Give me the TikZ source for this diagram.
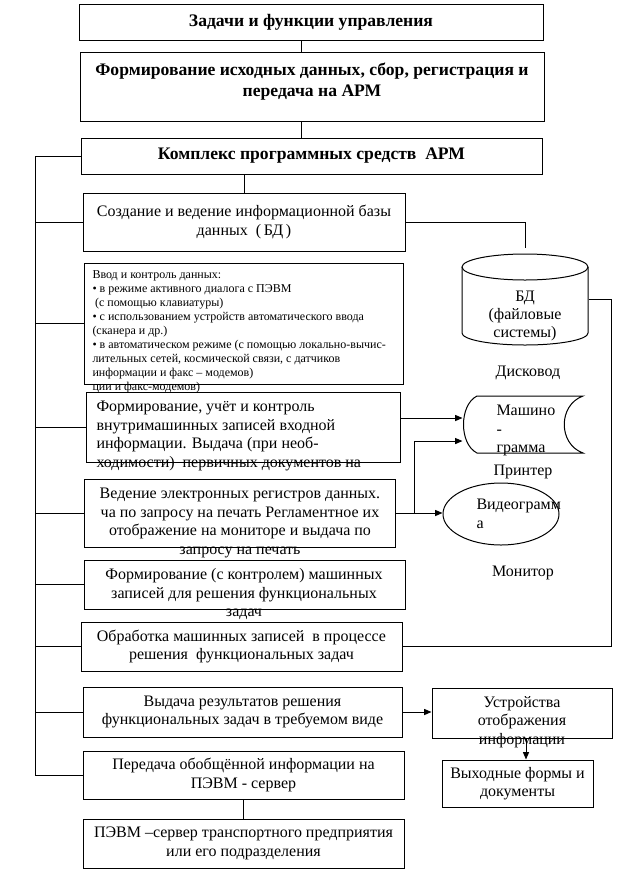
\documentclass[tikz,border=0pt]{standalone}
\usepackage{fontspec}
\setmainfont{Liberation Serif}
\usetikzlibrary{arrows.meta, shapes.geometric}
\tikzset{
  blok/.style = {draw, inner sep=0pt, align=center},
  tekst/.style = {inner sep=0pt, align=center},
  bolshoj/.style = {font=\fontsize{13.2}{16}\selectfont\bfseries},
  srednij/.style = {font=\fontsize{12}{13.8}\selectfont},
  melkij/.style = {font=\fontsize{9}{10.5}\selectfont},
  strelka/.style = {-{Triangle[length=5.5pt, width=4.5pt]}}
}

\begin{document}
\begin{tikzpicture}[x=0.75pt, y=-0.75pt, line width=0.75pt]
    \useasboundingbox (0,0) rectangle (624,875);

    %% Upper part

    % Boxes
    \node[blok, bolshoj, minimum width=348pt, minimum height=27pt] (zad) at (311,22) {Задачи и функции управления};
    \node[blok, minimum width=348pt, minimum height=51.75pt] (form) at (312,86.5) {};
    \node[tekst, bolshoj, anchor=north] (form-t) at (312,62) {Формирование исходных данных, сбор, регистрация и\\передача на АРМ};
    \node[blok, bolshoj, minimum width=345.75pt, minimum height=27pt] (kompl) at (311.5,156) {Комплекс программных средств\ \ АРМ};

    % Links
    \draw ([xshift=-7.5pt]zad.south) -- ([xshift=-7.5pt]zad.south |- form.north);
    \draw ([xshift=-8.25pt]form.south) -- ([xshift=-8.25pt]form.south |- kompl.north);

    %% Left column

    \node[blok, srednij, minimum width=241.5pt, minimum height=43.5pt] (sozd) at (244,222) {Создание и ведение информационной базы\\данных\ \ (\,БД\,)};

    \node[blok, minimum width=239.25pt, minimum height=90.75pt] (vvod) at (243.5,323.5) {};
    \node[tekst, melkij, anchor=north west, align=left] (vvod-t) at (92,270) {Ввод и контроль данных:\\
      • в режиме активного диалога с ПЭВМ\\
      \hspace{2pt}(с помощью клавиатуры)\\
      • с использованием устройств автоматического ввода\\
      (сканера и др.)\\
      • в автоматическом режиме (с помощью локально-вычис-\\
      лительных сетей, космической связи, с датчиков\\
      информации и факс – модемов)\\
      ции и факс-модемов)};

    \node[blok, minimum width=235.5pt, minimum height=52.5pt] (uchet) at (243,427) {};
    \node[tekst, srednij, anchor=north west, align=left] (uchet-t) at (96,401) {Формирование, учёт и контроль\\внутримашинных записей входной\\информации. Выдача (при необ-\\ходимости)\ \ первичных документов на};

    \node[blok, minimum width=233.25pt, minimum height=51pt] (vedenie) at (239.5,513) {};
    \node[tekst, srednij, anchor=north] (vedenie-t) at (240,488) {Ведение электронных регистров данных.\\ча по запросу на печать Регламентное их\\отображение на мониторе и выдача по\\запросу на печать};

    \node[blok, minimum width=240.75pt, minimum height=36.75pt] (formk) at (244.5,584.5) {};
    \node[tekst, srednij, anchor=north] (formk-t) at (244,568) {Формирование (с контролем) машинных\\записей для решения функциональных\\задач};

    \node[blok, srednij, minimum width=240.75pt, minimum height=36.75pt] (obrab) at (241.5,646.5) {Обработка машинных записей\ \ в процессе\\решения\ \ функциональных задач};
    \node[blok, srednij, minimum width=239.25pt, minimum height=37.5pt] (vydacha) at (242.5,712) {Выдача результатов решения\\функциональных задач в требуемом виде};
    \node[blok, srednij, minimum width=240.75pt, minimum height=36pt] (peredacha) at (243.5,775) {Передача обобщённой информации на\\ПЭВМ - сервер};
    \node[blok, srednij, minimum width=240.75pt, minimum height=36.75pt] (pevm) at (243.5,843.5) {ПЭВМ –сервер транспортного предприятия\\или его подразделения};

    % Bus
    \draw (sozd.north |- kompl.south) -- (sozd.north);
    \draw (kompl.west) -- ++(-45,0) coordinate (shina) -- (shina |- peredacha.west) -- (peredacha.west);
    \draw (shina |- sozd.west) -- (sozd.west);
    \draw (shina |- vvod.west) -- (vvod.west);
    \draw (shina |- uchet.west) -- (uchet.west);
    \draw (shina |- vedenie.west) -- (vedenie.west);
    \draw (shina |- formk.west) -- (formk.west);
    \draw (shina |- obrab.west) -- (obrab.west);
    \draw (shina |- vydacha.west) -- (vydacha.west);
    \draw (peredacha.south) -- (pevm.north);

    %% Right column

    % Disk
    \node[inner sep=0pt, minimum width=94.5pt, minimum height=68.25pt] (disk) at (525,299.5) {};
    \draw (525,267) ellipse [x radius=47.25pt, y radius=9.75pt];
    \draw (462,267) -- (462,333) arc[start angle=180, end angle=360, x radius=47.25pt, y radius=9pt] -- (588,267);
    \node[tekst, srednij] (bd) at (525,316) {БД\\(файловые\\системы)};
    \node[tekst, srednij] (diskovod) at (528,373) {Дисковод};

    % Printer
    \node[inner sep=0pt, minimum width=90pt, minimum height=42.75pt] (mash) at (523,424.5) {};
    \draw (477,396) -- (583,396) .. controls (558,405) and (558,444) .. (583,453) -- (477,453) .. controls (459,444) and (459,405) .. (477,396);
    \node[tekst, srednij, anchor=north west, align=left] (mash-t) at (496,405) {Машино\\-\\грамма};
    \node[tekst, srednij] (printer) at (523,472) {Принтер};

    % Monitor
    \node[draw, ellipse, inner sep=0pt, minimum width=87pt, minimum height=46.5pt] (video) at (501,514) {};
    \node[tekst, srednij, anchor=north west, align=left] (video-t) at (476,499) {Видеограмм\\а};
    \node[tekst, srednij] (monitor) at (523,573) {Монитор};

    % Output
    \node[blok, minimum width=135pt, minimum height=37.5pt] (ustr) at (522,713) {};
    \node[tekst, srednij, anchor=north] (ustr-t) at (522,696) {Устройства\\отображения\\информации};
    \node[blok, srednij, minimum width=113.25pt, minimum height=35.25pt] (vyh) at (517.5,783.5) {Выходные формы и\\документы};

    % Links
    \draw (sozd.east) -| ([yshift=4.5pt]disk.north);
    \draw (disk.east) -- ++(23,0) coordinate (rel) -- (rel |- obrab.east) -- (obrab.east);
    \draw[strelka] ([yshift=6.75pt]uchet.east) -- ([yshift=6.75pt]uchet.east -| mash.west);
    \draw[strelka] (vedenie.east) -- (vedenie.east -| video.west);
    \draw[strelka] (vedenie.east) ++(19,0) coordinate (otvod) |- ([yshift=-12.4pt]mash.west);
    \draw[strelka] (vydacha.east) -- (vydacha.east -| ustr.west);
    \draw[strelka] ([xshift=3pt]ustr.south) -- ([xshift=3pt]ustr.south |- vyh.north);

\end{tikzpicture}
\end{document}
